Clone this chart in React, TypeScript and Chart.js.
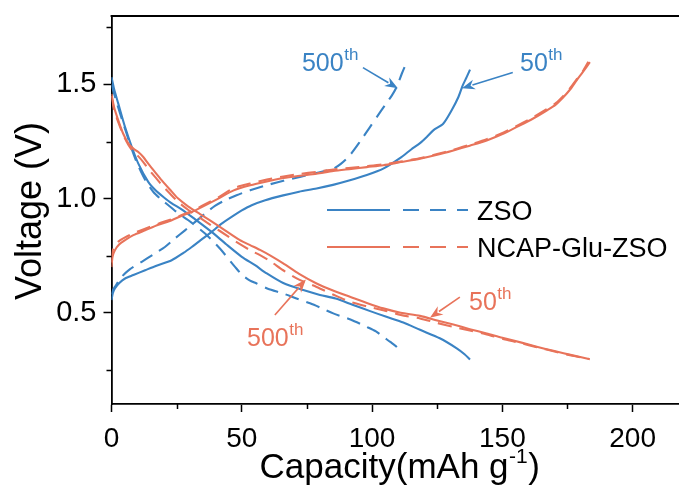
import { useEffect, useRef } from 'react';
import { Chart, registerables } from 'chart.js';

Chart.register(...registerables);

const BLUE = '#3a83c4';
const RED = '#e8735a';
const FONT = '"Liberation Sans", Arial, Helvetica, sans-serif';

type Pt = [number, number];

// ZSO, 50th cycle (solid blue)
const zso50Charge: Pt[] = [
  [0, 0.555], [0.5, 0.585], [1.3, 0.606], [3, 0.63], [5.2, 0.65], [8.4, 0.665], [12.9, 0.686],
  [17, 0.705], [23.1, 0.73], [27.6, 0.762], [30.8, 0.788], [34.5, 0.82], [38.4, 0.854], [42, 0.888],
  [46.1, 0.92], [50, 0.948], [53.8, 0.971], [59, 0.993], [65.9, 1.014], [72, 1.03], [78.7, 1.044],
  [85, 1.06], [91.5, 1.08], [98, 1.103], [104.3, 1.131], [110.7, 1.177], [115, 1.215], [118.4, 1.243],
  [121, 1.27], [123.5, 1.299], [127.3, 1.328], [130.5, 1.386], [133.1, 1.444], [134.8, 1.496],
  [136.3, 1.532], [137.6, 1.565],
];
const zso50Discharge: Pt[] = [
  [0, 1.532], [1, 1.48], [2.6, 1.416], [5.2, 1.313], [7.8, 1.226], [10.3, 1.153], [14.1, 1.073],
  [17, 1.035], [19.9, 1.007], [23, 0.98], [26.9, 0.953], [32, 0.91], [38.4, 0.854], [44, 0.8],
  [50, 0.745], [55.1, 0.708], [59.6, 0.672], [65.9, 0.63], [73.6, 0.599], [80, 0.578], [86, 0.562],
  [92.5, 0.535], [99, 0.508], [105.5, 0.482], [112, 0.457], [118.4, 0.425], [126, 0.388],
  [132.5, 0.344], [135.5, 0.318], [137.6, 0.295],
];

// ZSO, 500th cycle (dashed blue)
const zso500Charge: Pt[] = [
  [0, 0.58], [0.6, 0.6], [1.3, 0.613], [3.9, 0.657], [7, 0.69], [11.6, 0.723], [16, 0.755],
  [20.5, 0.788], [24, 0.822], [28.2, 0.861], [32, 0.897], [35.9, 0.934], [39.7, 0.968], [44, 0.995],
  [48, 1.015], [53.2, 1.036], [60, 1.06], [66, 1.078], [72.3, 1.095], [78, 1.11], [85.1, 1.131],
  [88, 1.152], [91.5, 1.19], [95.4, 1.25], [99, 1.31], [102, 1.36], [105, 1.41], [107.5, 1.45],
  [109.4, 1.488], [111.4, 1.547], [113.3, 1.598],
];
const zso500Discharge: Pt[] = [
  [0, 1.5], [1.5, 1.44], [3.5, 1.365], [5.5, 1.295], [7.5, 1.225], [10, 1.15], [13, 1.08],
  [16, 1.03], [19, 0.997], [23, 0.96], [26, 0.932], [29.5, 0.905], [35.9, 0.847], [41.6, 0.781],
  [47.4, 0.701], [50, 0.667], [53, 0.642], [55.7, 0.628], [60, 0.605], [65.9, 0.584], [71, 0.562],
  [76.2, 0.541], [80, 0.523], [85.1, 0.497], [91.7, 0.47], [97.9, 0.438], [101.5, 0.418],
  [104.3, 0.394], [107, 0.372], [109.4, 0.351], [111.2, 0.325],
];

// NCAP-Glu-ZSO, 50th cycle (solid red)
const ncap50Charge: Pt[] = [
  [0, 0.7], [0.4, 0.745], [1.3, 0.774], [3, 0.8], [5.2, 0.818], [8.4, 0.84], [12.9, 0.861],
  [18, 0.885], [23.1, 0.905], [27, 0.925], [30.8, 0.941], [35, 0.965], [41, 1.0], [46.7, 1.035],
  [53.2, 1.058], [59.6, 1.075], [66, 1.09], [72.3, 1.1], [78.7, 1.109], [85.1, 1.121], [92, 1.13],
  [98, 1.138], [104.3, 1.146], [111, 1.16], [118.4, 1.175], [125, 1.192], [131.2, 1.211],
  [137.5, 1.232], [144, 1.255], [150.5, 1.285], [156.8, 1.321], [162, 1.352], [167, 1.386],
  [170.5, 1.412], [173.4, 1.444], [176, 1.478], [178.5, 1.518], [181, 1.556], [183.6, 1.598],
];
const ncap50Discharge: Pt[] = [
  [0, 1.459], [1, 1.4], [2.6, 1.343], [4.5, 1.284], [6.5, 1.241], [8.4, 1.219], [10.3, 1.204],
  [12.2, 1.182], [14.1, 1.153], [16.7, 1.116], [19.3, 1.08], [22.4, 1.04], [25.6, 1.0],
  [29.5, 0.965], [34, 0.932], [41.6, 0.876], [49.3, 0.818], [53.2, 0.796], [57, 0.775],
  [61, 0.75], [65.9, 0.716], [72, 0.67], [78.7, 0.628], [85, 0.597], [91.5, 0.57], [98, 0.543],
  [104.3, 0.519], [111, 0.5], [118.4, 0.486], [125, 0.466], [131.2, 0.448], [137.5, 0.428],
  [144, 0.409], [150, 0.39], [157, 0.37], [163.2, 0.351], [170, 0.332], [177, 0.313], [183.6, 0.296],
];

// NCAP-Glu-ZSO, 500th cycle (dashed red)
const ncap500Charge: Pt[] = [
  [0, 0.72], [0.4, 0.77], [1.3, 0.795], [3, 0.815], [5.2, 0.83], [8.4, 0.848], [12.9, 0.868],
  [18, 0.89], [23.1, 0.91], [27, 0.928], [30.8, 0.945], [35, 0.97], [41, 1.005], [46.7, 1.045],
  [53.2, 1.066], [59.6, 1.083], [66, 1.097], [72.3, 1.108], [78.7, 1.117], [85.1, 1.127], [92, 1.135],
  [98, 1.142], [104.3, 1.15], [111, 1.162], [118.4, 1.177], [125, 1.195], [131.2, 1.214],
  [137.5, 1.236], [144, 1.26], [150.5, 1.29], [156.8, 1.326], [162, 1.358], [167, 1.392],
  [170.5, 1.418], [173.4, 1.45], [176, 1.484], [178.5, 1.522], [181, 1.56], [183, 1.6],
];
const ncap500Discharge: Pt[] = [
  [0, 1.45], [1, 1.39], [2.6, 1.335], [4.5, 1.28], [6.5, 1.235], [8.4, 1.205], [10.3, 1.185],
  [12.2, 1.16], [14.1, 1.13], [16.7, 1.095], [19.3, 1.06], [22.4, 1.022], [25.6, 0.985],
  [29.5, 0.95], [34, 0.915], [41.6, 0.858], [49.3, 0.8], [53.2, 0.774], [57, 0.752], [61, 0.725],
  [65.9, 0.686], [72, 0.645], [78.7, 0.613], [85, 0.58], [91.5, 0.548], [98, 0.528], [104.3, 0.511],
  [111, 0.49], [118.4, 0.475], [125, 0.455], [131.2, 0.438], [137.5, 0.422], [144, 0.405],
  [150, 0.386], [157, 0.367], [163.2, 0.349], [170, 0.33], [177, 0.311], [183, 0.298],
];

const xMinorTicks = [25, 75, 125, 175];
const yMinorTicks = [0.25, 0.75, 1.25, 1.75];
const legendLabels = ['ZSO', 'NCAP-Glu-ZSO'];
const xTitle = ['Capacity(mAh g', '-1', ')'];
const yTitle = 'Voltage (V)';

// cycle labels with arrows, in data coordinates
const cycleNotes = [
  { num: '500', sup: 'th', color: BLUE, text: [73.1, 1.561], tail: [96.5, 1.574], head: [109.9, 1.483] },
  { num: '50', sup: 'th', color: BLUE, text: [156.8, 1.561], tail: [154.0, 1.552], head: [134.5, 1.483] },
  { num: '500', sup: 'th', color: RED, text: [52.0, 0.352], tail: [62.7, 0.49], head: [74.6, 0.645] },
  { num: '50', sup: 'th', color: RED, text: [137.2, 0.511], tail: [133.7, 0.568], head: [122.2, 0.478] },
];

const DASH = [14, 8];

const overlay = {
  id: 'overlay',
  afterDraw(chart: any) {
    const { ctx, chartArea: ca, scales } = chart;
    const x = scales.x;
    const y = scales.y;
    ctx.save();
    ctx.setLineDash([]);
    ctx.strokeStyle = '#000';
    ctx.lineWidth = 1.8;
    // top frame line
    ctx.beginPath();
    ctx.moveTo(ca.left - 0.9, ca.top);
    ctx.lineTo(679, ca.top);
    ctx.stroke();
    // minor ticks
    ctx.lineWidth = 1.5;
    ctx.beginPath();
    xMinorTicks.forEach((v) => {
      const px = Math.round(x.getPixelForValue(v)) + 0.5;
      ctx.moveTo(px, ca.bottom);
      ctx.lineTo(px, ca.bottom + 5);
    });
    yMinorTicks.forEach((v) => {
      const py = Math.round(y.getPixelForValue(v)) + 0.5;
      ctx.moveTo(ca.left, py);
      ctx.lineTo(ca.left - 5, py);
    });
    ctx.stroke();

    // axis titles
    ctx.fillStyle = '#000';
    ctx.textBaseline = 'alphabetic';
    const big = `35px ${FONT}`;
    const small = `21px ${FONT}`;
    ctx.font = big;
    const w0 = ctx.measureText(xTitle[0]).width;
    const w2 = ctx.measureText(xTitle[2]).width;
    ctx.font = small;
    const w1 = ctx.measureText(xTitle[1]).width;
    const total = w0 + w1 + w2 + 1;
    const cx = (ca.left + 660) / 2 + 14;
    let sx = cx - total / 2;
    const by = 478;
    ctx.font = big;
    ctx.textAlign = 'left';
    ctx.fillText(xTitle[0], sx, by);
    sx += w0 + 0.5;
    ctx.font = small;
    ctx.fillText(xTitle[1], sx, by - 15);
    sx += w1 + 0.5;
    ctx.font = big;
    ctx.fillText(xTitle[2], sx, by);

    ctx.save();
    ctx.translate(41, 211);
    ctx.rotate(-Math.PI / 2);
    ctx.textAlign = 'center';
    ctx.font = `36px ${FONT}`;
    ctx.fillText(yTitle, 0, 0);
    ctx.restore();

    // legend
    const rows = [
      { label: legendLabels[0], color: BLUE, ly: 210, ty: 220 },
      { label: legendLabels[1], color: RED, ly: 247, ty: 257 },
    ];
    rows.forEach((r) => {
      ctx.strokeStyle = r.color;
      ctx.lineWidth = 2.2;
      ctx.setLineDash([]);
      ctx.beginPath();
      ctx.moveTo(327, r.ly);
      ctx.lineTo(390, r.ly);
      ctx.stroke();
      ctx.setLineDash([16, 11]);
      ctx.beginPath();
      ctx.moveTo(403, r.ly);
      ctx.lineTo(468, r.ly);
      ctx.stroke();
      ctx.setLineDash([]);
      ctx.fillStyle = '#000';
      ctx.font = `27px ${FONT}`;
      ctx.textAlign = 'left';
      ctx.fillText(r.label, 477, r.ty);
    });

    // cycle notes
    cycleNotes.forEach((n) => {
      const tx = x.getPixelForValue(n.text[0]);
      const ty = y.getPixelForValue(n.text[1]);
      ctx.fillStyle = n.color;
      ctx.textAlign = 'left';
      ctx.font = `25px ${FONT}`;
      ctx.fillText(n.num, tx, ty);
      const nw = ctx.measureText(n.num).width;
      ctx.font = `17px ${FONT}`;
      ctx.fillText(n.sup, tx + nw + 0.5, ty - 11);

      const x0 = x.getPixelForValue(n.tail[0]);
      const y0 = y.getPixelForValue(n.tail[1]);
      const x1 = x.getPixelForValue(n.head[0]);
      const y1 = y.getPixelForValue(n.head[1]);
      const ang = Math.atan2(y1 - y0, x1 - x0);
      const hl = 13;
      const hw = 5;
      const bx = x1 - hl * Math.cos(ang);
      const byy = y1 - hl * Math.sin(ang);
      ctx.strokeStyle = n.color;
      ctx.lineWidth = 1.6;
      ctx.beginPath();
      ctx.moveTo(x0, y0);
      ctx.lineTo(bx + 2 * Math.cos(ang), byy + 2 * Math.sin(ang));
      ctx.stroke();
      ctx.beginPath();
      ctx.moveTo(x1, y1);
      ctx.lineTo(bx + hw * Math.sin(ang), byy - hw * Math.cos(ang));
      ctx.lineTo(bx + 4 * Math.cos(ang), byy + 4 * Math.sin(ang));
      ctx.lineTo(bx - hw * Math.sin(ang), byy + hw * Math.cos(ang));
      ctx.closePath();
      ctx.fill();
    });
    ctx.restore();
  },
};

function toXY(pts: Pt[]) {
  return pts.map(([a, b]) => ({ x: a, y: b }));
}

export default function App() {
  const ref = useRef<HTMLCanvasElement | null>(null);

  useEffect(() => {
    if (!ref.current) return;
    const line = (data: Pt[], color: string, dashed: boolean) => ({
      data: toXY(data),
      borderColor: color,
      backgroundColor: color,
      borderWidth: 2.1,
      borderDash: dashed ? DASH : [],
      pointRadius: 0,
      showLine: true,
      tension: 0.25,
      fill: false,
    });
    const chart = new Chart(ref.current, {
      type: 'scatter',
      data: {
        datasets: [
          line(ncap500Charge, RED, true),
          line(ncap500Discharge, RED, true),
          line(ncap50Charge, RED, false),
          line(ncap50Discharge, RED, false),
          line(zso500Charge, BLUE, true),
          line(zso500Discharge, BLUE, true),
          line(zso50Charge, BLUE, false),
          line(zso50Discharge, BLUE, false),
        ],
      },
      options: {
        responsive: false,
        animation: false,
        events: [],
        layout: { padding: { top: 16, right: 0, left: 0, bottom: 0 } },
        plugins: { legend: { display: false }, tooltip: { enabled: false }, title: { display: false } },
        scales: {
          x: {
            type: 'linear',
            min: 0,
            max: 217.8,
            border: { display: true, color: '#000', width: 1.8 },
            grid: { drawOnChartArea: false, drawTicks: true, tickLength: 8, tickColor: '#000', tickWidth: 1.5 },
            ticks: {
              stepSize: 50,
              includeBounds: false,
              color: '#000',
              padding: 10,
              maxRotation: 0,
              autoSkip: false,
              font: { family: FONT, size: 28 },
            },
            afterFit: (s: any) => {
              s.height = 88;
              s.paddingLeft = 0;
              s.paddingRight = 0;
            },
          },
          y: {
            type: 'linear',
            min: 0.1,
            max: 1.8,
            border: { display: true, color: '#000', width: 1.8 },
            grid: { drawOnChartArea: false, drawTicks: true, tickLength: 8, tickColor: '#000', tickWidth: 1.5 },
            ticks: {
              stepSize: 0.5,
              includeBounds: false,
              color: '#000',
              padding: 7,
              autoSkip: false,
              font: { family: FONT, size: 29 },
              callback: (v: any) => Number(v).toFixed(1),
            },
            afterFit: (s: any) => {
              s.width = 111.5;
              s.paddingTop = 0;
              s.paddingBottom = 0;
            },
          },
        },
      },
      plugins: [overlay],
    });
    return () => chart.destroy();
  }, []);

  return (
    <div style={{ position: 'absolute', left: 0, top: 0, width: 679, height: 492, background: '#fff' }}>
      <canvas ref={ref} width={679} height={492} style={{ display: 'block' }} />
    </div>
  );
}
